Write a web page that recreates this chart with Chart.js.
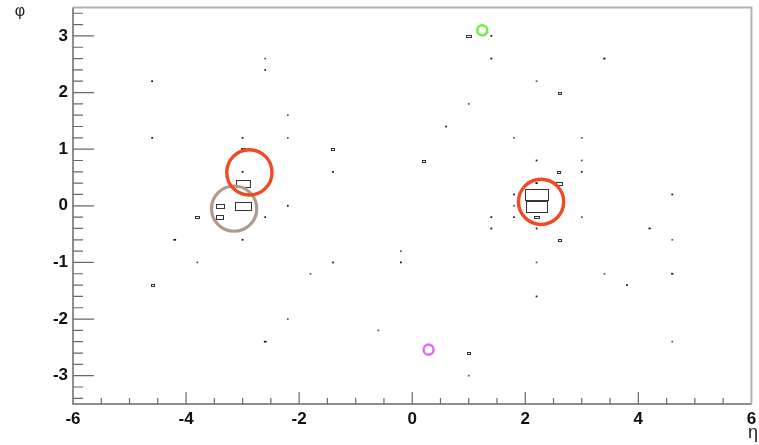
<!DOCTYPE html>
<html>
<head>
<meta charset="utf-8">
<script src="https://cdn.jsdelivr.net/npm/chart.js@4"></script>
<style>
  html, body { margin: 0; padding: 0; background: #fff; }
  #myChart { display: block; }
</style>
</head>
<body>
<canvas id="myChart" width="759" height="445"></canvas>
<script>
// 축 눈금 라벨
const etaTicks = [-6, -4, -2, 0, 2, 4, 6];
const phiTicks = [-3, -2, -1, 0, 1, 2, 3];

// 칼로리미터 셀 (eta, phi, 상대 에너지)
const cellEta = [-4.6, -4.6, -3.0, -3.0, -3.0, -3.0, -3.0, -3.4, -3.4, -3.8, -2.6, -3.0, -4.2, -3.8, -4.6,
  -2.6, -2.6, -2.2, -2.2, -1.4, -1.4, -2.2, -0.2, -0.2, -1.4, -1.8, -2.2, -2.6, -0.6, 1.0, 1.0,
  1.0, 1.4, 1.4, 1.0, 0.6, 0.2, 1.4, 1.4, 3.4, 2.2, 2.6, 1.8, 3.0, 2.2, 3.0, 2.6, 3.0, 2.2, 2.6,
  1.8, 2.2, 2.2, 1.8, 1.8, 2.2, 3.0, 2.2, 4.2, 2.6, 4.6, 2.2, 3.4, 4.6, 3.8, 2.2, 4.6, 4.6];
const cellPhi = [2.2, 1.2, 1.2, 1.0, 0.6, 0.4, 0.0, 0.0, -0.2, -0.2, -0.2, -0.6, -0.6, -1.0, -1.4,
  2.6, 2.4, 1.6, 1.2, 1.0, 0.6, 0.0, -0.8, -1.0, -1.0, -1.2, -2.0, -2.4, -2.2, -2.6, -3.0,
  3.0, 3.0, 2.6, 1.8, 1.4, 0.8, -0.2, -0.4, 2.6, 2.2, 2.0, 1.2, 1.2, 0.8, 0.8, 0.6, 0.6, 0.4, 0.4,
  0.2, 0.2, 0.0, 0.0, -0.2, -0.2, -0.2, -0.4, -0.4, -0.6, -0.6, -1.0, -1.2, -1.2, -1.4, -1.6, -2.4, 0.2];
const cellE = [0.08, 0.08, 0.06, 0.17, 0.08, 0.6, 0.7, 0.36, 0.32, 0.17, 0.06, 0.08, 0.12, 0.05, 0.14,
  0.05, 0.06, 0.05, 0.05, 0.15, 0.08, 0.06, 0.04, 0.08, 0.06, 0.04, 0.04, 0.12, 0.05, 0.14, 0.05,
  0.22, 0.08, 0.08, 0.05, 0.06, 0.15, 0.08, 0.08, 0.1, 0.05, 0.14, 0.05, 0.04, 0.06, 0.04, 0.15, 0.07, 0.1, 0.25,
  0.08, 1.0, 0.93, 0.05, 0.06, 0.2, 0.05, 0.06, 0.1, 0.14, 0.04, 0.05, 0.05, 0.1, 0.08, 0.07, 0.05, 0.08];

// 제트 (R = 0.4 콘)
const jetEta = [-2.88, 2.28];
const jetPhi = [0.59, 0.07];
// 기타 제트
const softJetEta = [-3.15];
const softJetPhi = [-0.05];
// 렙톤 / 광자
const lepEta = [1.24];
const lepPhi = [3.10];
const gamEta = [0.29];
const gamPhi = [-2.54];

function toPoints(xs, ys) {
  return xs.map(function(x, i) { return { x: x, y: ys[i] }; });
}

// 콘 반지름을 픽셀로
function coneRadius(ctx) {
  const s = ctx.chart.scales.x;
  return s.getPixelForValue(0.4) - s.getPixelForValue(0);
}

// 셀 박스 그리기 (ROOT box 스타일)
const cellBoxes = {
  id: 'cellBoxes',
  beforeDatasetsDraw(chart) {
    const c = chart.ctx;
    const xs = chart.scales.x;
    const ys = chart.scales.y;
    c.save();
    for (let i = 0; i < cellEta.length; i++) {
      const f = cellE[i];
      const x0 = xs.getPixelForValue(cellEta[i] - f * 0.2);
      const x1 = xs.getPixelForValue(cellEta[i] + f * 0.2);
      const y0 = ys.getPixelForValue(cellPhi[i] + f * 0.1);
      const y1 = ys.getPixelForValue(cellPhi[i] - f * 0.1);
      const w = x1 - x0, h = y1 - y0;
      if (w >= 3) {
        c.strokeStyle = '#333';
        c.lineWidth = 1;
        c.strokeRect(Math.round(x0) + 0.5, Math.round(y0) + 0.5, Math.max(Math.round(w), 2), Math.max(Math.round(h), 1));
      } else {
        c.fillStyle = f >= 0.06 ? '#111' : '#555';
        const ww = Math.max(w, 1.7), hh = Math.max(h, 1.7);
        c.fillRect((x0 + x1) / 2 - ww / 2, (y0 + y1) / 2 - hh / 2, ww, hh);
      }
    }
    c.restore();
  }
};

// 프레임, 안쪽 눈금, 축 제목
const frame = {
  id: 'frame',
  afterDraw(chart) {
    const c = chart.ctx;
    const a = chart.chartArea;
    const xs = chart.scales.x;
    const ys = chart.scales.y;
    c.save();
    // 위/오른쪽 테두리
    c.strokeStyle = '#b4b4b4';
    c.lineWidth = 2;
    c.beginPath();
    c.moveTo(a.left, a.top);
    c.lineTo(a.right, a.top);
    c.lineTo(a.right, a.bottom);
    c.stroke();
    // 축
    c.strokeStyle = '#6a6a6a';
    c.lineWidth = 1.5;
    c.beginPath();
    c.moveTo(a.left, a.top);
    c.lineTo(a.left, a.bottom);
    c.lineTo(a.right, a.bottom);
    c.stroke();
    // 눈금
    c.lineWidth = 1.2;
    c.beginPath();
    for (let k = 1; k < 24; k++) {
      const v = -6 + k * 0.5;
      const px = xs.getPixelForValue(v);
      const len = (k % 4 === 0) ? 12 : 6;
      c.moveTo(px, a.bottom);
      c.lineTo(px, a.bottom - len);
    }
    for (let k = -17; k <= 17; k++) {
      const py = ys.getPixelForValue(k * 0.2);
      const len = (k % 5 === 0) ? 21 : 10;
      c.moveTo(a.left, py);
      c.lineTo(a.left + len, py);
    }
    c.stroke();
    // 축 제목
    c.fillStyle = '#222';
    c.textAlign = 'center';
    c.textBaseline = 'middle';
    c.font = '16px "Liberation Sans"';
    c.fillText('φ', 20, 12);
    c.font = '18px "Liberation Sans"';
    c.fillText('η', 753, 433);
    c.restore();
  }
};

const tickFont = { family: '"Liberation Sans", Arial, sans-serif', size: 17, weight: 'bold' };

const data = {
  datasets: [
    {
      label: 'jets',
      data: toPoints(jetEta, jetPhi),
      pointStyle: 'circle',
      pointRadius: coneRadius,
      borderColor: '#f24a22',
      borderWidth: 3.4,
      backgroundColor: 'rgba(0,0,0,0)'
    },
    {
      label: 'soft jets',
      data: toPoints(softJetEta, softJetPhi),
      pointStyle: 'circle',
      pointRadius: coneRadius,
      borderColor: '#b09a8c',
      borderWidth: 3.2,
      backgroundColor: 'rgba(0,0,0,0)'
    },
    {
      label: 'lepton',
      data: toPoints(lepEta, lepPhi),
      pointStyle: 'circle',
      pointRadius: 5,
      borderColor: '#72ee4c',
      borderWidth: 2.6,
      backgroundColor: 'rgba(0,0,0,0)'
    },
    {
      label: 'photon',
      data: toPoints(gamEta, gamPhi),
      pointStyle: 'circle',
      pointRadius: 5,
      borderColor: '#e66ef0',
      borderWidth: 2.6,
      backgroundColor: 'rgba(0,0,0,0)'
    }
  ]
};

const config = {
  type: 'scatter',
  data,
  options: {
    responsive: false,
    animation: false,
    layout: { padding: { top: 7, right: 4, left: 0, bottom: 0 } },
    plugins: { legend: { display: false }, tooltip: { enabled: false } },
    elements: { point: { hoverRadius: 0 } },
    scales: {
      x: {
        type: 'linear',
        min: -6, max: 6,
        grid: { display: false, drawTicks: false },
        border: { display: false },
        ticks: { font: tickFont, color: '#111', padding: 5, maxRotation: 0 },
        afterBuildTicks: function(scale) {
          scale.ticks = etaTicks.map(function(v) { return { value: v }; });
        },
        afterFit: function(scale) {
          scale.height = 41;
          scale.paddingLeft = 0;
          scale.paddingRight = 0;
        }
      },
      y: {
        type: 'linear',
        min: -3.5, max: 3.5,
        grid: { display: false, drawTicks: false },
        border: { display: false },
        ticks: { font: tickFont, color: '#111', padding: 5 },
        afterBuildTicks: function(scale) {
          scale.ticks = phiTicks.map(function(v) { return { value: v }; });
        },
        afterFit: function(scale) {
          scale.width = 73;
          scale.paddingTop = 0;
          scale.paddingBottom = 0;
        }
      }
    }
  },
  plugins: [cellBoxes, frame]
};

const myChart = new Chart(document.getElementById('myChart'), config);
</script>
</body>
</html>
